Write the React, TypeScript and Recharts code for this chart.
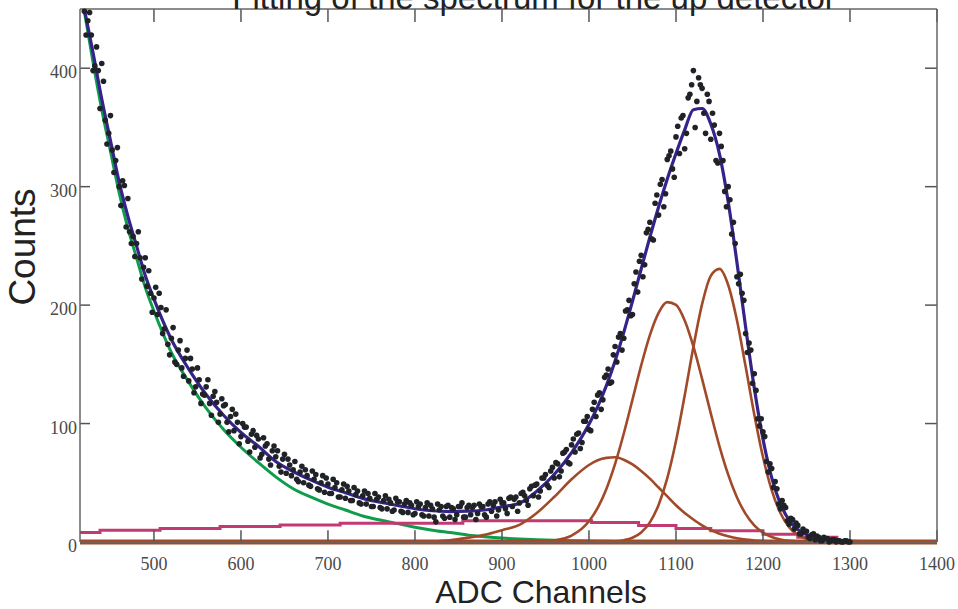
import React from "react";
import { ComposedChart, Line, ReferenceLine, Scatter, XAxis, YAxis } from "recharts";

// measured spectrum, read in two interleaved passes (every 4 channels, offset by 2)
const dotStep = 4;
const dotStartA = 420;
const countsA = [
  448, 440, 428, 402, 398, 404, 356, 345, 331, 322, 300, 305, 266, 262, 258, 252, 240, 232, 216, 210,
  206, 192, 198, 180, 167, 172, 152, 162, 147, 155, 136, 146, 131, 137, 125, 131, 117, 123, 118, 108,
  115, 101, 106, 94, 101, 89, 97, 85, 91, 80, 87, 74, 81, 70, 77, 72, 64, 70, 58, 65,
  61, 53, 59, 50, 56, 47, 53, 45, 50, 42, 49, 41, 46, 38, 44, 37, 43, 35, 40, 33,
  39, 32, 37, 30, 36, 29, 35, 28, 33, 27, 34, 26, 32, 25, 31, 24, 30, 23, 29, 22,
  28, 17, 27, 22, 30, 21, 28, 23, 30, 21, 29, 23, 31, 24, 30, 23, 32, 26, 34, 27,
  33, 28, 37, 30, 38, 33, 42, 35, 45, 39, 49, 43, 54, 48, 60, 54, 66, 60, 76, 67,
  82, 76, 92, 84, 102, 95, 112, 106, 126, 120, 141, 134, 158, 152, 176, 172, 196, 191, 218, 211,
  242, 234, 264, 256, 286, 276, 306, 294, 326, 315, 342, 328, 360, 345, 378, 398, 372, 386, 362, 378,
  340, 352, 320, 334, 296, 300, 260, 252, 218, 210, 176, 168, 134, 128, 98, 93, 68, 66, 46, 45,
  28, 31, 18, 20, 11, 14, 7, 9, 4, 6, 2, 4, 1, 3, 0, 2, 0, 1, 0, 1,
  0,
];
const dotStartB = 422;
const countsB = [
  428, 447, 398, 418, 366, 389, 336, 360, 312, 333, 284, 301, 290, 252, 241, 262, 222, 240, 229, 194,
  215, 210, 176, 196, 158, 181, 150, 170, 140, 162, 155, 126, 147, 117, 124, 137, 107, 127, 101, 121,
  116, 93, 112, 108, 83, 100, 97, 76, 94, 90, 71, 88, 83, 65, 81, 77, 59, 74, 70, 56,
  68, 51, 64, 61, 48, 60, 57, 44, 56, 54, 41, 53, 50, 38, 49, 47, 35, 46, 43, 32,
  43, 41, 30, 41, 38, 28, 39, 36, 26, 37, 34, 25, 35, 33, 23, 34, 32, 22, 33, 31,
  21, 32, 30, 20, 31, 29, 19, 30, 33, 21, 31, 29, 19, 32, 30, 21, 34, 31, 22, 36,
  33, 24, 38, 36, 26, 41, 39, 31, 47, 48, 38, 54, 57, 46, 63, 67, 55, 75, 78, 66,
  87, 91, 79, 102, 106, 94, 118, 124, 112, 139, 146, 135, 165, 173, 162, 195, 204, 192, 228, 237,
  224, 261, 270, 255, 293, 302, 283, 323, 330, 308, 351, 358, 332, 375, 386, 350, 392, 383, 345, 372,
  362, 322, 345, 322, 283, 289, 270, 224, 226, 204, 160, 162, 142, 104, 104, 89, 59, 62, 51, 32,
  35, 29, 15, 19, 16, 7, 11, 9, 3, 7, 5, 1, 4, 3, 1, 2, 1, 0, 1, 0,
];

// fitted curves, sampled on a common channel grid
const curveChannels = [
  420, 430, 440, 450, 460, 470, 480, 490, 500,
  520, 540, 560, 580, 600, 620, 640, 660, 680, 700, 720, 740, 760, 780, 800, 820, 840, 860, 880, 900, 920, 940, 960, 980, 1000,
  1010, 1020, 1030, 1040, 1050, 1060, 1070, 1080, 1090, 1100, 1110, 1120, 1130, 1140, 1150, 1160, 1170, 1180, 1190, 1200, 1210, 1220, 1230, 1240, 1250, 1260,
  1280, 1300, 1350, 1400,
];
const totalFit = [
  450, 413, 374, 339, 304, 275, 250, 225, 205,
  171, 146, 124.5, 107, 92.4, 80.8, 68, 59.5, 52.5, 46.3, 41.6, 36.8, 33.6, 30.8, 28.1, 26.4, 25.7, 26, 27, 29.8, 32.8, 42.9, 57, 75.5, 99.4,
  114.3, 132, 152.9, 177, 203.3, 230.5, 257.4, 282.9, 306.5, 328, 348, 365, 366, 352.9, 327.5, 287.2, 236.4, 181.6, 130, 86.9, 54.4, 32.2, 18.5, 10.5, 6.3, 4,
  1.8, 0.5, 0, 0,
];
const background = [
  448, 405, 365, 330, 295, 265, 240, 215, 195,
  160, 135, 113, 95, 80, 67, 55, 45, 38, 32, 27, 22, 18.5, 15.5, 12.5, 10, 8, 6, 4.5, 3.3, 2.5, 1.9, 1.4, 1.1, 0.8,
  0.7, 0.6, 0.5, 0.4, 0.4, 0.3, 0.3, 0.2, 0.2, 0.2, 0.1, 0.1, 0.1, 0.1, 0, 0, 0, 0, 0, 0, 0, 0, 0, 0, 0, 0,
  0, 0, 0, 0,
];
const peak1 = [
  0, 0, 0, 0, 0, 0, 0, 0, 0,
  0, 0, 0, 0, 0, 0, 0, 0, 0, 0, 0, 0, 0, 0, 0.05, 0.5, 1.5, 3.5, 6, 10, 14.5, 24.5, 38, 53, 65,
  69, 71, 71.5, 69.5, 65.5, 60, 53.5, 46, 38.5, 31, 24.5, 19, 14, 10, 7, 4.8, 3.2, 2, 1.3, 0.8, 0.45, 0.25, 0.15, 0.08, 0, 0,
  0, 0, 0, 0,
];
const peak2 = [
  0, 0, 0, 0, 0, 0, 0, 0, 0,
  0, 0, 0, 0, 0, 0, 0, 0, 0, 0, 0, 0, 0, 0, 0, 0, 0, 0, 0, 0, 0, 0.3, 1.4, 5.4, 17.5,
  28.8, 44.8, 65.9, 91.6, 120.2, 149.1, 174.7, 193.5, 202.5, 200.2, 187, 165.1, 137.7, 108.6, 80.8, 56.9, 37.8, 23.8, 14.1, 7.9, 4.2, 2.1, 1, 0.45, 0.2, 0.08,
  0, 0, 0, 0,
];
const peak3 = [
  0, 0, 0, 0, 0, 0, 0, 0, 0,
  0, 0, 0, 0, 0, 0, 0, 0, 0, 0, 0, 0, 0, 0, 0, 0, 0, 0, 0, 0, 0, 0, 0, 0, 0,
  0.05, 0.2, 0.5, 1.5, 3.6, 8.1, 16.6, 31.3, 53.9, 85.3, 123.7, 164.6, 200.8, 224.7, 230.6, 217, 187.4, 148.3, 107.7, 71.7, 43.8, 24.5, 12.6, 5.9, 2.6, 1,
  0.1, 0, 0, 0,
];

// linear component, drawn as steps
const linearChannels = [415, 438, 507, 576, 645, 714, 855, 1003, 1057, 1100, 1140, 1200, 1240, 1285, 1400];
const linearCounts = [8, 10, 11.5, 13, 14.4, 15.8, 18, 16.5, 14, 11.5, 9.5, 6.5, 4, 0, 0];

const baseChannels = [415, 1400];
const baseCounts = [0, 0];

const xDomain = [415, 1400];
const yDomain = [0, 450];
const xTicks = [500, 600, 700, 800, 900, 1000, 1100, 1200, 1300, 1400];
const yTicks = [0, 100, 200, 300, 400];
// inward tick lengths, in data units
const xTickLenBottom = 10;
const xTickLenTop = 11;
const yTickLenLeft = 11.5;
const yTickLenRight = 13.8;

const toRows = (xs: number[], ys: number[]) => xs.map((ch, i) => ({ ch, v: ys[i] }));
const dotRows = [
  ...countsA.map((v, i) => ({ ch: dotStartA + i * dotStep, v })),
  ...countsB.map((v, i) => ({ ch: dotStartB + i * dotStep, v })),
];

const frame = "#666";
const serif = "'Liberation Serif', 'Times New Roman', serif";
const sans = "'Liberation Sans', Arial, sans-serif";

const bottomLabel = (p: any) => (
  <text x={p.x} y={p.y + 28} textAnchor="middle" fontFamily={serif} fontSize={18} fill="#4a4a4a">
    {p.payload.value}
  </text>
);
const leftLabel = (p: any) => (
  <text x={p.x - 3} y={p.y + 10} textAnchor="end" fontFamily={serif} fontSize={18} fill="#4a4a4a">
    {p.payload.value}
  </text>
);

const Dot = ({ cx, cy }: any) => <circle cx={cx} cy={cy} r={2.8} fill="#1f2327" />;

export default function App() {
  const axisLine = { stroke: frame, strokeWidth: 1.5 };
  const mark = { stroke: "#555", strokeWidth: 1.5, ifOverflow: "visible" as const };
  return (
    <div style={{ position: "absolute", left: 0, top: 0, width: 958, height: 609, background: "#fff" }}>
      <ComposedChart width={958} height={609} margin={{ top: 0, right: 0, bottom: 0, left: 0 }}>
        <XAxis
          type="number"
          dataKey="ch"
          domain={xDomain}
          ticks={xTicks}
          interval={0}
          height={67}
          axisLine={axisLine}
          tickLine={false}
          tickSize={0}
          tickMargin={0}
          tick={bottomLabel}
        />
        <XAxis xAxisId="top" orientation="top" type="number" domain={xDomain} height={9} axisLine={axisLine} tick={false} tickLine={false} />
        <YAxis
          type="number"
          dataKey="v"
          domain={yDomain}
          ticks={yTicks}
          interval={0}
          width={80}
          axisLine={axisLine}
          tickLine={false}
          tickSize={0}
          tickMargin={0}
          tick={leftLabel}
        />
        <YAxis yAxisId="right" orientation="right" type="number" domain={yDomain} width={21} axisLine={axisLine} tick={false} tickLine={false} />
        <Scatter data={dotRows} dataKey="v" shape={<Dot />} isAnimationActive={false} />
        <Line data={toRows(curveChannels, background)} dataKey="v" type="monotone" stroke="#0f9d4c" strokeWidth={3} dot={false} activeDot={false} isAnimationActive={false} />
        <Line data={toRows(curveChannels, totalFit)} dataKey="v" type="monotone" stroke="#36228a" strokeWidth={3.2} dot={false} activeDot={false} isAnimationActive={false} />
        <Line data={toRows(linearChannels, linearCounts)} dataKey="v" type="stepAfter" stroke="#c23a72" strokeWidth={3} dot={false} activeDot={false} isAnimationActive={false} />
        <Line data={toRows(curveChannels, peak1)} dataKey="v" type="monotone" stroke="#a14a2a" strokeWidth={2.6} dot={false} activeDot={false} isAnimationActive={false} />
        <Line data={toRows(curveChannels, peak2)} dataKey="v" type="monotone" stroke="#a14a2a" strokeWidth={2.6} dot={false} activeDot={false} isAnimationActive={false} />
        <Line data={toRows(curveChannels, peak3)} dataKey="v" type="monotone" stroke="#a14a2a" strokeWidth={2.6} dot={false} activeDot={false} isAnimationActive={false} />
        <Line data={toRows(baseChannels, baseCounts)} dataKey="v" type="linear" stroke="#a14a2a" strokeWidth={5} dot={false} activeDot={false} isAnimationActive={false} />
        {/* inward tick marks on all four sides of the frame */}
        {xTicks.map((t) => (
          <ReferenceLine key={`b${t}`} segment={[{ x: t, y: yDomain[0] }, { x: t, y: yDomain[0] + xTickLenBottom }]} {...mark} />
        ))}
        {xTicks.map((t) => (
          <ReferenceLine key={`t${t}`} segment={[{ x: t, y: yDomain[1] }, { x: t, y: yDomain[1] - xTickLenTop }]} {...mark} />
        ))}
        {yTicks.slice(1).map((t) => (
          <ReferenceLine key={`l${t}`} segment={[{ x: xDomain[0], y: t }, { x: xDomain[0] + yTickLenLeft, y: t }]} {...mark} />
        ))}
        {yTicks.slice(1).map((t) => (
          <ReferenceLine key={`r${t}`} segment={[{ x: xDomain[1], y: t }, { x: xDomain[1] - yTickLenRight, y: t }]} {...mark} />
        ))}
      </ComposedChart>
      <svg width={958} height={609} style={{ position: "absolute", left: 0, top: 0, pointerEvents: "none" }}>
        <text x={534} y={9} textAnchor="middle" fontFamily={sans} fontSize={33} fill="#222">
          Fitting of the spectrum for the up detector
        </text>
        <text x={541} y={603} textAnchor="middle" fontFamily={sans} fontSize={32} fill="#222">
          ADC Channels
        </text>
        <text x={35} y={247} textAnchor="middle" fontFamily={sans} fontSize={37} fill="#222" transform="rotate(-90 35 247)">
          Counts
        </text>
      </svg>
    </div>
  );
}
